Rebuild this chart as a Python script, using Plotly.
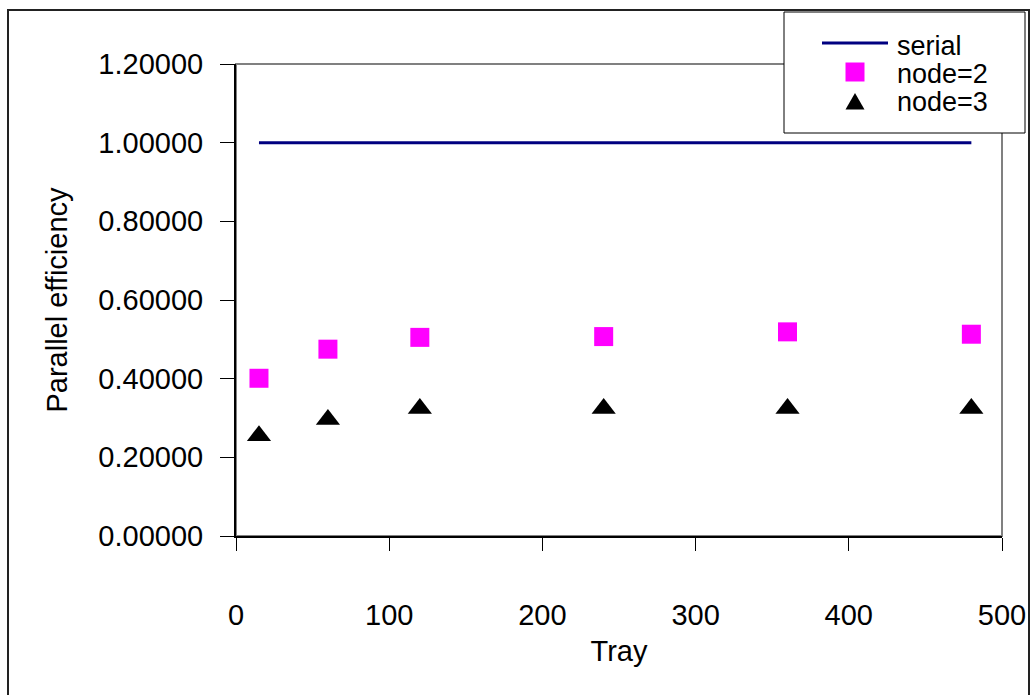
import plotly.graph_objects as go

# ---- data ----
trays = [15, 60, 120, 240, 360, 480]
serial = [1.0, 1.0, 1.0, 1.0, 1.0, 1.0]
node2 = [0.401, 0.475, 0.505, 0.507, 0.519, 0.513]
node3 = [0.255, 0.296, 0.324, 0.324, 0.324, 0.324]
y_ticks = [0.0, 0.2, 0.4, 0.6, 0.8, 1.0, 1.2]
x_ticks = [0, 100, 200, 300, 400, 500]
series_names = ["serial", "node=2", "node=3"]
series_colors = ["#000080", "#FF00FF", "#000000"]

W, H = 1031, 695
L, R, T, B = 236, 1002, 64, 536

FONT = "Liberation Sans, Arial, sans-serif"


def px_x(p):
    return (p - L) / (R - L)


def px_y(p):
    return (B - p) / (B - T)


fig = go.Figure()
fig.add_trace(go.Scatter(x=trays, y=serial, mode="lines", name=series_names[0],
                         line=dict(color=series_colors[0], width=3)))
fig.add_trace(go.Scatter(x=trays, y=node2, mode="markers", name=series_names[1],
                         marker=dict(symbol="square", size=19, color=series_colors[1])))
fig.add_trace(go.Scatter(x=trays, y=node3, mode="markers", name=series_names[2],
                         marker=dict(symbol="triangle-up", size=21, color=series_colors[2])))

shapes = [
    # plot area border (gray)
    dict(type="rect", xref="paper", yref="paper", x0=0, x1=1, y0=0, y1=1,
         line=dict(color="#808080", width=2), layer="below"),
    # outer chart border
    dict(type="rect", xref="paper", yref="paper",
         x0=px_x(8), x1=px_x(1029), y0=px_y(720), y1=px_y(10),
         line=dict(color="#222222", width=2), layer="below"),
    # legend box
    dict(type="rect", xref="paper", yref="paper",
         x0=px_x(784), x1=px_x(1025), y0=px_y(133), y1=px_y(12),
         line=dict(color="#000000", width=1), fillcolor="white", layer="above"),
    # legend glyph: serial line
    dict(type="line", xref="paper", yref="paper",
         x0=px_x(822), x1=px_x(888), y0=px_y(43), y1=px_y(43),
         line=dict(color=series_colors[0], width=3), layer="above"),
    # legend glyph: square
    dict(type="rect", xref="paper", yref="paper",
         x0=px_x(845.5), x1=px_x(864.5), y0=px_y(81.5), y1=px_y(62.5),
         line=dict(width=0), fillcolor=series_colors[1], layer="above"),
    # legend glyph: triangle
    dict(type="path", xref="paper", yref="paper",
         path="M %f,%f L %f,%f L %f,%f Z" % (px_x(845.5), px_y(109.5),
                                             px_x(864.5), px_y(109.5),
                                             px_x(855), px_y(93)),
         line=dict(width=0), fillcolor=series_colors[2], layer="above"),
]

legend_y = [46.5, 74, 102.5]
annotations = [
    dict(xref="paper", yref="paper", x=px_x(895), y=px_y(yy), text=name,
         showarrow=False, xanchor="left", yanchor="middle",
         font=dict(size=27, family=FONT, color="#000000"))
    for name, yy in zip(series_names, legend_y)
]

fig.update_layout(
    width=W, height=H,
    margin=dict(l=L, r=W - R, t=T, b=H - B, autoexpand=False),
    paper_bgcolor="white", plot_bgcolor="white",
    font=dict(family=FONT, size=29, color="#000000"),
    shapes=shapes,
    annotations=annotations,
    showlegend=False,
)

fig.update_xaxes(range=[0, 500], tickvals=x_ticks, ticktext=[str(v) for v in x_ticks],
                 showgrid=False, zeroline=False, showline=True, linecolor="#000000",
                 linewidth=2, ticks="outside", ticklen=13, tickcolor="#000000",
                 tickwidth=1, ticklabelstandoff=39, tickfont=dict(size=29),
                 title=dict(text="Tray", font=dict(size=29), standoff=11))
fig.update_yaxes(range=[0, 1.2], tickvals=y_ticks,
                 ticktext=["%.5f" % v for v in y_ticks],
                 showgrid=False, zeroline=False, showline=True, linecolor="#000000",
                 linewidth=2, ticks="outside", ticklen=14, tickcolor="#000000",
                 tickwidth=1, ticklabelstandoff=11, tickfont=dict(size=29),
                 title=dict(text="Parallel efficiency", font=dict(size=29), standoff=22))

fig.write_html("out.html")
